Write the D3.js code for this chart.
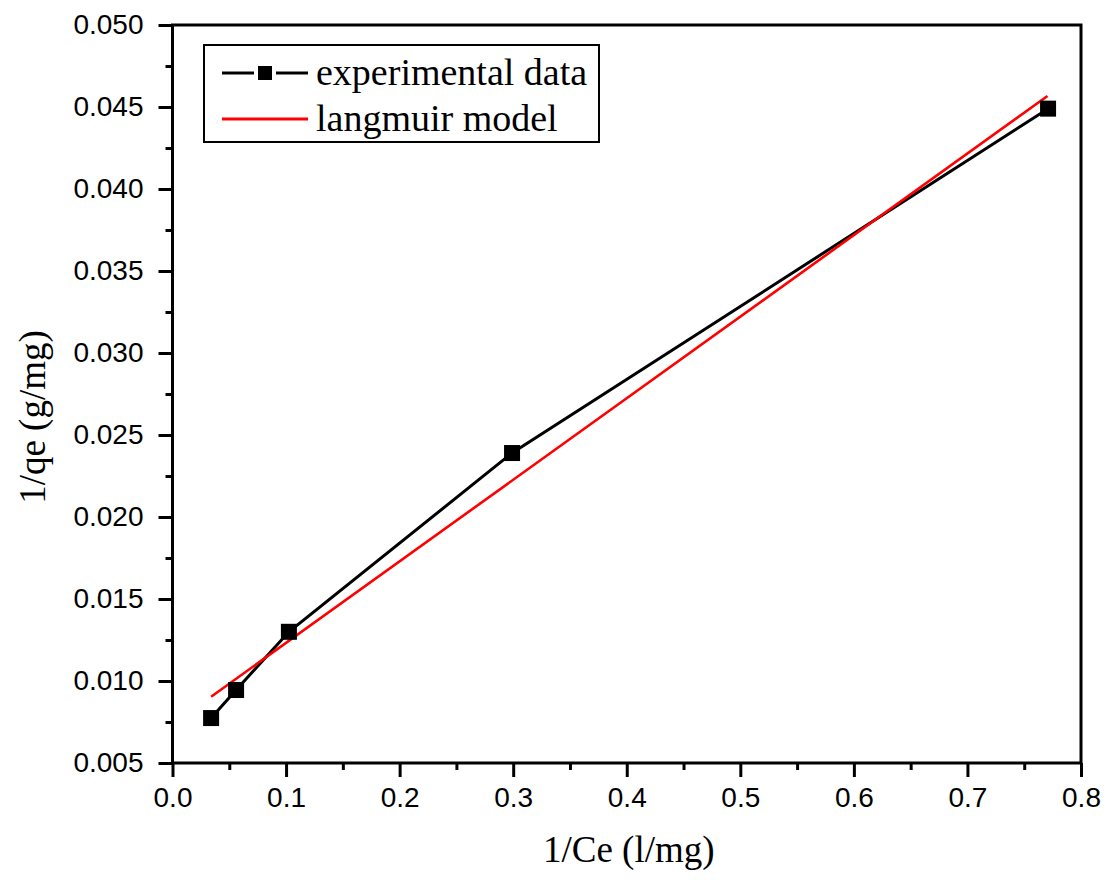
<!DOCTYPE html>
<html>
<head>
<meta charset="utf-8">
<script src="https://cdn.jsdelivr.net/npm/d3@7"></script>
<style>
  body { margin: 0; background: #fff; }
  svg { display: block; }
</style>
</head>
<body>
<svg id="chart" width="1112" height="880"></svg>
<script>
// Data
const expX = [0.034, 0.056, 0.1025, 0.299, 0.771];
const expY = [0.00774, 0.00945, 0.0130, 0.0239, 0.0449];
const fitX = [0.034, 0.7705];
const fitY = [0.00904, 0.04567];
const xTicks = [0.0, 0.1, 0.2, 0.3, 0.4, 0.5, 0.6, 0.7, 0.8];
const yTicks = [0.005, 0.010, 0.015, 0.020, 0.025, 0.030, 0.035, 0.040, 0.045, 0.050];
const seriesNames = ["experimental data", "langmuir model"];
const xTitle = "1/Ce (l/mg)";
const yTitle = "1/qe (g/mg)";

const W = 1112, H = 880;
const m = { left: 172.5, right: 1081, top: 25, bottom: 763 };
const svg = d3.select("#chart");

const x = d3.scaleLinear().domain([0, 0.8]).range([m.left, m.right]);
const y = d3.scaleLinear().domain([0.005, 0.050]).range([m.bottom, m.top]);

const xMinor = d3.range(0.05, 0.8, 0.1);
const yMinor = d3.range(0.0075, 0.05, 0.005);

// minor ticks
const gxMinor = svg.append("g").attr("transform", `translate(0,${m.bottom})`)
  .call(d3.axisBottom(x).tickValues(xMinor).tickSize(7).tickSizeOuter(0).tickFormat(""));
const gyMinor = svg.append("g").attr("transform", `translate(${m.left},0)`)
  .call(d3.axisLeft(y).tickValues(yMinor).tickSize(7).tickSizeOuter(0).tickFormat(""));

// major ticks
const gx = svg.append("g").attr("transform", `translate(0,${m.bottom})`)
  .call(d3.axisBottom(x).tickValues(xTicks).tickSize(14).tickSizeOuter(0).tickPadding(10)
    .tickFormat(d3.format(".1f")));
const gy = svg.append("g").attr("transform", `translate(${m.left},0)`)
  .call(d3.axisLeft(y).tickValues(yTicks).tickSize(14).tickSizeOuter(0).tickPadding(15)
    .tickFormat(d3.format(".3f")));

[gxMinor, gyMinor, gx, gy].forEach(g => {
  g.selectAll(".domain").remove();
  g.selectAll(".tick line").attr("stroke", "#000").attr("stroke-width", 3);
});
[gx, gy].forEach(g => {
  g.selectAll(".tick text")
    .attr("fill", "#000")
    .style("font-family", "'Liberation Sans', Arial, sans-serif")
    .style("font-size", "28px");
});

// frame
svg.append("rect")
  .attr("x", m.left).attr("y", m.top)
  .attr("width", m.right - m.left).attr("height", m.bottom - m.top)
  .attr("fill", "none").attr("stroke", "#000").attr("stroke-width", 3);

// fit line
const fitData = fitX.map((v, i) => [v, fitY[i]]);
const expData = expX.map((v, i) => [v, expY[i]]);
const line = d3.line().x(d => x(d[0])).y(d => y(d[1]));

svg.append("path").datum(expData)
  .attr("d", line).attr("fill", "none").attr("stroke", "#000").attr("stroke-width", 3);
svg.append("path").datum(fitData)
  .attr("d", line).attr("fill", "none").attr("stroke", "#ff0000").attr("stroke-width", 2.6);

const ms = 16;
svg.append("g").selectAll("rect").data(expData).join("rect")
  .attr("x", d => x(d[0]) - ms / 2).attr("y", d => y(d[1]) - ms / 2)
  .attr("width", ms).attr("height", ms).attr("fill", "#000");

// legend
const lg = svg.append("g");
lg.append("rect").attr("x", 204).attr("y", 45).attr("width", 395).attr("height", 97)
  .attr("fill", "#fff").attr("stroke", "#000").attr("stroke-width", 2);
const rows = [73, 119];
lg.append("line").attr("x1", 222).attr("x2", 254).attr("y1", rows[0]).attr("y2", rows[0])
  .attr("stroke", "#000").attr("stroke-width", 3);
lg.append("line").attr("x1", 276).attr("x2", 308).attr("y1", rows[0]).attr("y2", rows[0])
  .attr("stroke", "#000").attr("stroke-width", 3);
lg.append("rect").attr("x", 265 - 7).attr("y", rows[0] - 7).attr("width", 14).attr("height", 14)
  .attr("fill", "#000");
lg.append("line").attr("x1", 222).attr("x2", 308).attr("y1", rows[1]).attr("y2", rows[1])
  .attr("stroke", "#ff0000").attr("stroke-width", 3);
lg.selectAll("text").data(seriesNames).join("text")
  .attr("x", 316).attr("y", (d, i) => rows[i] + 12)
  .style("font-family", "'Liberation Serif', 'Times New Roman', serif")
  .style("font-size", "38px").attr("fill", "#000")
  .text(d => d);

// axis titles
svg.append("text").attr("x", (m.left + m.right) / 2 + 2).attr("y", 862)
  .attr("text-anchor", "middle")
  .style("font-family", "'Liberation Serif', 'Times New Roman', serif")
  .style("font-size", "37px").attr("fill", "#000").text(xTitle);
svg.append("text")
  .attr("transform", `translate(45,${417}) rotate(-90)`)
  .attr("text-anchor", "middle")
  .style("font-family", "'Liberation Serif', 'Times New Roman', serif")
  .style("font-size", "37px").attr("fill", "#000").text(yTitle);
</script>
</body>
</html>
